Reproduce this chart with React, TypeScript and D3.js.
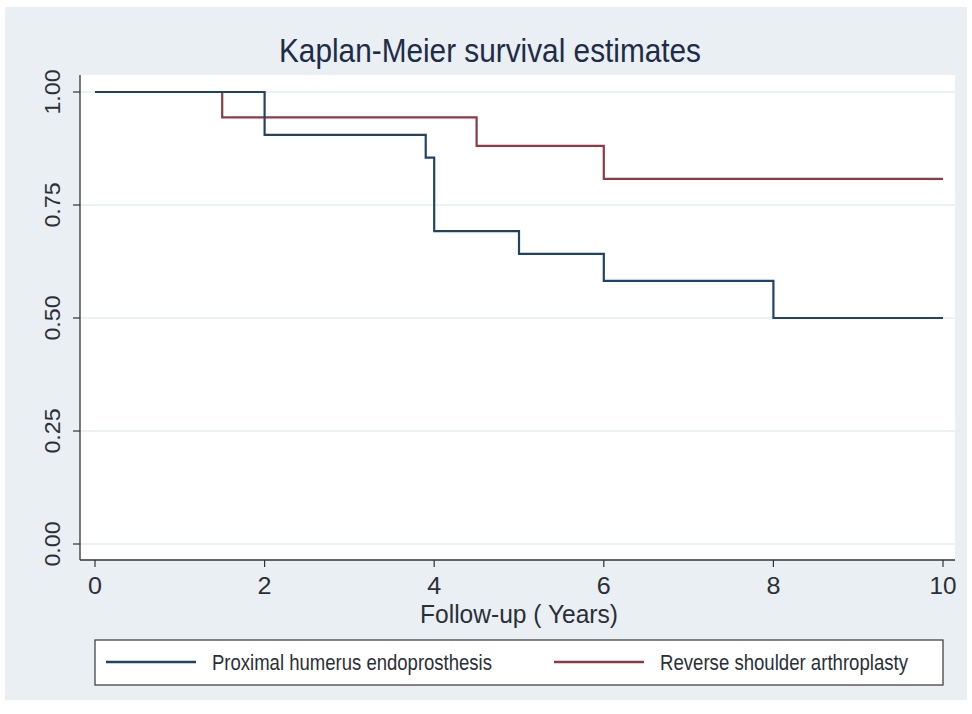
import React from "react";
import * as d3 from "d3";

// Kaplan-Meier step data (time in years, survival estimate)
const phTimes = [0, 2, 3.9, 4, 5, 6, 8, 10];
const phSurv = [1.0, 0.905, 0.855, 0.692, 0.642, 0.582, 0.5, 0.5];
const rsaTimes = [0, 1.5, 4.5, 6, 10];
const rsaSurv = [1.0, 0.944, 0.881, 0.808, 0.808];

const xTicks = [0, 2, 4, 6, 8, 10];
const yTicks = [0, 0.25, 0.5, 0.75, 1];
const seriesNames = ["Proximal humerus endoprosthesis", "Reverse shoulder arthroplasty"];
const seriesColors = ["#1f4466", "#8e3a44"];

const W = 972;
const H = 714;
const plot = { left: 80, right: 955, top: 75, bottom: 560 };

const App = () => {
  const x = d3.scaleLinear().domain([0, 10]).range([95, 943]);
  const y = d3.scaleLinear().domain([0, 1]).range([544, 92]);

  const step = d3
    .line<[number, number]>()
    .x((d) => x(d[0]))
    .y((d) => y(d[1]))
    .curve(d3.curveStepAfter);

  const phPts = phTimes.map((t, i) => [t, phSurv[i]] as [number, number]);
  const rsaPts = rsaTimes.map((t, i) => [t, rsaSurv[i]] as [number, number]);

  const font = "'Liberation Sans', Arial, sans-serif";
  const textCol = "#2a2f38";

  return (
    <svg
      width={W}
      height={H}
      style={{ position: "absolute", left: 0, top: 0, background: "#fff" }}
    >
      <rect x={5} y={7} width={962} height={693} fill="#e9eff2" />
      <text
        x={490}
        y={62}
        textAnchor="middle"
        fontFamily={font}
        fontSize={33}
        fill="#1e2c48"
        textLength={422}
        lengthAdjust="spacingAndGlyphs"
      >
        Kaplan-Meier survival estimates
      </text>

      <rect
        x={plot.left}
        y={plot.top}
        width={plot.right - plot.left}
        height={plot.bottom - plot.top}
        fill="#ffffff"
      />
      {yTicks.map((t) => (
        <line
          key={"g" + t}
          x1={plot.left}
          x2={plot.right}
          y1={y(t)}
          y2={y(t)}
          stroke="#e6ecef"
          strokeWidth={1.5}
        />
      ))}

      <path d={step(rsaPts) || ""} fill="none" stroke={seriesColors[1]} strokeWidth={2.2} />
      <path d={step(phPts) || ""} fill="none" stroke={seriesColors[0]} strokeWidth={2.2} />

      {/* axes */}
      <line x1={plot.left} x2={plot.left} y1={plot.top} y2={plot.bottom} stroke="#333" strokeWidth={1.3} />
      <line x1={plot.left} x2={plot.right} y1={plot.bottom} y2={plot.bottom} stroke="#333" strokeWidth={1.3} />
      {yTicks.map((t) => (
        <g key={"y" + t}>
          <line x1={plot.left - 7} x2={plot.left} y1={y(t)} y2={y(t)} stroke="#333" strokeWidth={1.2} />
          <text
            transform={`translate(60,${y(t)}) rotate(-90)`}
            textAnchor="middle"
            fontFamily={font}
            fontSize={22}
            fill={textCol}
            textLength={45}
            lengthAdjust="spacingAndGlyphs"
          >
            {d3.format(".2f")(t)}
          </text>
        </g>
      ))}
      {xTicks.map((t) => (
        <g key={"x" + t}>
          <line x1={x(t)} x2={x(t)} y1={plot.bottom} y2={plot.bottom + 7} stroke="#333" strokeWidth={1.2} />
          <text
            x={x(t)}
            y={594}
            textAnchor="middle"
            fontFamily={font}
            fontSize={24}
            fill={textCol}
            textLength={t >= 10 ? 27 : 14}
            lengthAdjust="spacingAndGlyphs"
          >
            {t}
          </text>
        </g>
      ))}
      <text
        x={519}
        y={623}
        textAnchor="middle"
        fontFamily={font}
        fontSize={26}
        fill={textCol}
        textLength={198}
        lengthAdjust="spacingAndGlyphs"
      >
        Follow-up ( Years)
      </text>

      {/* legend */}
      <rect x={95} y={640} width={848} height={45} fill="#ffffff" stroke="#444" strokeWidth={1.3} />
      {seriesNames.map((name, i) => {
        const lx = i === 0 ? 106 : 554;
        return (
          <g key={name}>
            <line x1={lx} x2={lx + 90} y1={662} y2={662} stroke={seriesColors[i]} strokeWidth={2.4} />
            <text
              x={lx + 106}
              y={670}
              fontFamily={font}
              fontSize={22}
              fill={textCol}
              textLength={i === 0 ? 280 : 248}
              lengthAdjust="spacingAndGlyphs"
            >
              {name}
            </text>
          </g>
        );
      })}
    </svg>
  );
};

export default App;
